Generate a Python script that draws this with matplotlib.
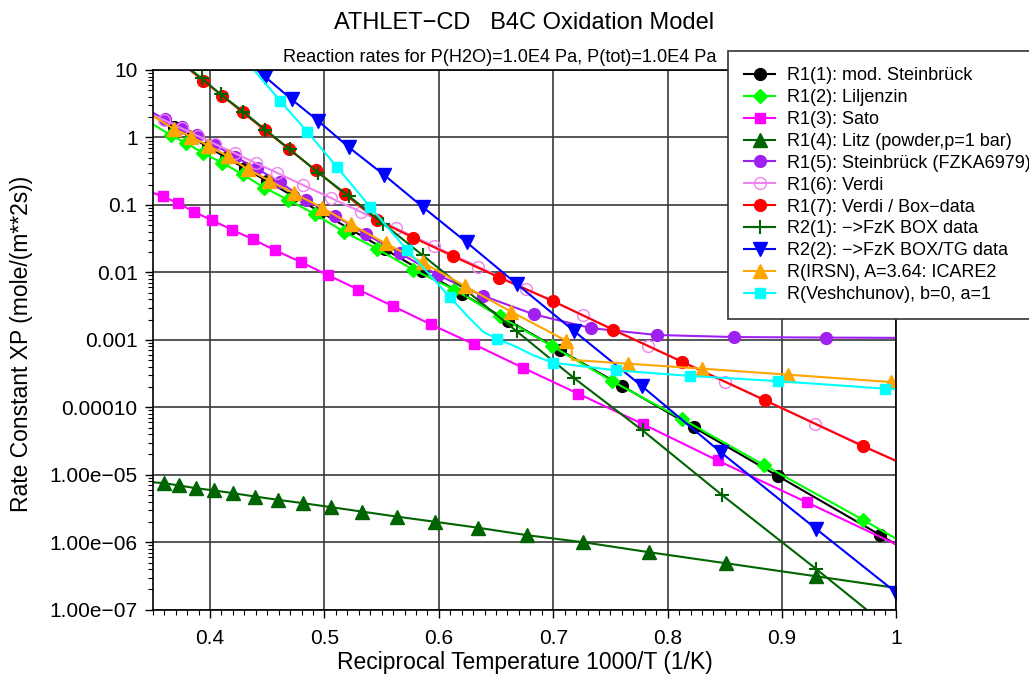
import matplotlib
matplotlib.use('Agg')
import matplotlib.pyplot as plt
from matplotlib.ticker import MultipleLocator, LogLocator, NullFormatter

plt.rcParams['font.family'] = ['Liberation Sans', 'DejaVu Sans']

# values (x = 1000/T, y = rate constant)
x_r11 = [0.35, 0.3685, 0.383, 0.3983, 0.4144, 0.4306, 0.4501, 0.4723, 0.4962, 0.5224, 0.553,
         0.5851, 0.6201, 0.6608, 0.7063, 0.7602, 0.8228, 0.8967, 0.9854, 1.0]
y_r11 = [2.14, 1.41, 1.02, 0.721, 0.50, 0.347, 0.224, 0.136, 0.079, 0.0438, 0.0219,
         0.0106, 0.00483, 0.00193, 6.98e-4, 2.07e-4, 5.05e-5, 9.5e-6, 1.29e-6, 9.2e-7]

x_r12 = [0.35, 0.3656, 0.3792, 0.3941, 0.4107, 0.4284, 0.4474, 0.4682, 0.4918, 0.5174, 0.5457,
         0.5775, 0.6135, 0.6532, 0.6991, 0.7511, 0.8123, 0.8843, 0.9708, 1.0]
y_r12 = [1.57, 1.08, 0.823, 0.585, 0.42, 0.284, 0.18, 0.119, 0.0727, 0.0397, 0.0225,
         0.011, 0.00556, 0.00222, 8.07e-4, 2.46e-4, 6.78e-5, 1.39e-5, 2.15e-6, 1.12e-6]

x_r13 = [0.35, 0.3587, 0.3723, 0.3863, 0.4015, 0.419, 0.4373, 0.4568, 0.4793, 0.5034, 0.5296,
         0.5602, 0.5929, 0.6308, 0.6733, 0.7219, 0.7781, 0.8436, 0.9216, 1.0]
y_r13 = [0.151, 0.1346, 0.105, 0.0787, 0.0593, 0.0431, 0.031, 0.0213, 0.01426, 0.00906, 0.00556,
         0.00314, 0.0017, 8.58e-4, 3.87e-4, 1.59e-4, 5.67e-5, 1.63e-5, 3.91e-6, 9.25e-7]

x_r14 = [0.35, 0.3598, 0.3732, 0.3878, 0.4038, 0.4204, 0.4393, 0.4592, 0.4816, 0.5058, 0.5326,
         0.5632, 0.5967, 0.6345, 0.6774, 0.7264, 0.784, 0.851, 0.9297, 1.0]
y_r14 = [7.76e-6, 7.5e-6, 6.94e-6, 6.32e-6, 5.85e-6, 5.33e-6, 4.76e-6, 4.26e-6, 3.79e-6, 3.31e-6, 2.85e-6,
         2.4e-6, 2.01e-6, 1.64e-6, 1.27e-6, 1.0e-6, 7.11e-7, 4.88e-7, 3.13e-7, 2.1e-7]

x_r15 = [0.35, 0.3607, 0.3753, 0.3884, 0.4044, 0.4219, 0.4408, 0.4612, 0.4839, 0.5093, 0.5364,
         0.5661, 0.5996, 0.6386, 0.6829, 0.7333, 0.7905, 0.8584, 0.9388, 1.0]
y_r15 = [2.33, 1.85, 1.44, 1.10, 0.769, 0.515, 0.347, 0.217, 0.117, 0.0691, 0.0367,
         0.0192, 0.00905, 0.0045, 0.00239, 0.00149, 0.00118, 0.0011, 0.00108, 0.00107]

x_r16 = [0.35, 0.3598, 0.3752, 0.3895, 0.404, 0.4215, 0.4399, 0.4582, 0.4812, 0.506, 0.5322,
         0.5628, 0.5962, 0.6341, 0.6764, 0.7259, 0.7831, 0.8501, 0.9292, 1.0]
y_r16 = [2.14, 1.81, 1.36, 1.05, 0.804, 0.585, 0.419, 0.301, 0.197, 0.126, 0.0781,
         0.0448, 0.0244, 0.0122, 0.00567, 0.00231, 8.15e-4, 2.41e-4, 5.73e-5, 1.6e-5]

x_r17 = [0.35, 0.3941, 0.4108, 0.4286, 0.4481, 0.4693, 0.4924, 0.518, 0.5462, 0.5777, 0.6127,
         0.6529, 0.6996, 0.752, 0.8123, 0.8847, 0.9705, 1.0]
y_r17 = [28.0, 6.92, 4.14, 2.35, 1.28, 0.664, 0.327, 0.144, 0.0593, 0.0328, 0.0173,
         0.00838, 0.00377, 0.00142, 4.75e-4, 1.28e-4, 2.66e-5, 1.6e-5]

x_r21 = [0.35, 0.3927, 0.4094, 0.4291, 0.4481, 0.4699, 0.4947, 0.5215, 0.5515, 0.5859, 0.6238,
         0.6681, 0.7182, 0.7781, 0.8473, 0.9297, 1.0]
y_r21 = [28.0, 7.5, 4.35, 2.40, 1.31, 0.664, 0.298, 0.135, 0.0526, 0.0179, 0.00542,
         0.00134, 2.71e-4, 4.54e-5, 5.05e-6, 4.03e-7, 4.4e-8]

x_r22 = [0.43, 0.4481, 0.4714, 0.4947, 0.5215, 0.5524, 0.5862, 0.6244, 0.6681, 0.7182, 0.7778,
         0.8464, 0.9297, 1.0]
y_r22 = [14.5, 7.93, 3.66, 1.75, 0.711, 0.276, 0.0924, 0.0278, 0.00673, 0.00135, 2.04e-4,
         2.16e-5, 1.58e-6, 1.78e-7]

x_irsn = [0.35, 0.3685, 0.383, 0.3985, 0.4153, 0.4328, 0.4518, 0.4736, 0.4976, 0.5232, 0.5535,
          0.5859, 0.6229, 0.6635, 0.7115, 0.7162, 0.7162, 0.7655, 0.83, 0.9051, 0.9951, 1.0]
y_irsn = [2.07, 1.34, 1.03, 0.756, 0.528, 0.341, 0.229, 0.148, 0.0915, 0.0517, 0.0268,
          0.0141, 0.00622, 0.0026, 9.66e-4, 8.3e-4, 5.05e-4, 4.43e-4, 3.74e-4, 3.05e-4, 2.37e-4, 2.3e-4]

x_vesh = [0.432, 0.4612, 0.4851, 0.5113, 0.5399, 0.5726, 0.6095, 0.6244, 0.6389, 0.6506, 0.6681,
          0.6826, 0.6994, 0.7549, 0.8196, 0.8968, 0.99, 1.0]
y_vesh = [13.5, 3.49, 1.21, 0.359, 0.0933, 0.0211, 0.00434, 0.00231, 0.00131, 0.00104, 7.82e-4,
          5.89e-4, 4.59e-4, 3.53e-4, 2.92e-4, 2.44e-4, 1.89e-4, 1.86e-4]

labels = ['R1(1): mod. Steinbrück', 'R1(2): Liljenzin', 'R1(3): Sato',
          'R1(4): Litz (powder,p=1 bar)', 'R1(5): Steinbrück (FZKA6979)', 'R1(6): Verdi',
          'R1(7): Verdi / Box\u2212data', 'R2(1): \u2212>FzK BOX data', 'R2(2): \u2212>FzK BOX/TG data',
          'R(IRSN), A=3.64: ICARE2', 'R(Veshchunov), b=0, a=1']

ytick_vals = [1e-7, 1e-6, 1e-5, 1e-4, 1e-3, 1e-2, 1e-1, 1, 10]
ytick_labels = ['1.00e\u221207', '1.00e\u221206', '1.00e\u221205', '0.00010', '0.001',
                '0.01', '0.1', '1', '10']
xtick_vals = [0.4, 0.5, 0.6, 0.7, 0.8, 0.9, 1.0]
xtick_labels = ['0.4', '0.5', '0.6', '0.7', '0.8', '0.9', '1']

fig = plt.figure(figsize=(10.29, 6.84), dpi=100)
ax = fig.add_axes([0.1485, 0.1086, 0.7227, 0.7891])

# (x, y, color, marker, size, markevery, filled)
series = [
    (x_r11, y_r11, 'black', 'o', 8.5, slice(1, -1), True),
    (x_r12, y_r12, '#00ff00', 'D', 7.5, slice(1, -1), True),
    (x_r13, y_r13, '#ff00ff', 's', 7, slice(1, -1), True),
    (x_r14, y_r14, '#006400', '^', 9.5, slice(1, -1), True),
    (x_r15, y_r15, '#a020f0', 'o', 8.5, slice(1, -1), True),
    (x_r16, y_r16, '#ee82ee', 'o', 8.5, slice(1, -1), False),
    (x_r17, y_r17, '#ff0000', 'o', 8.5, slice(1, -1), True),
    (x_r21, y_r21, '#006400', '+', 10, slice(1, -1), True),
    (x_r22, y_r22, '#0000ff', 'v', 9.5, slice(1, None), True),
    (x_irsn, y_irsn, '#ffa500', '^', 9.5, list(range(1, 15)) + list(range(17, 21)), True),
    (x_vesh, y_vesh, '#00ffff', 's', 7, [1, 2, 3, 4, 5, 6, 9, 12, 13, 14, 15, 16], True),
]

for (xs, ys, col, mk, ms, every, filled), lab in zip(series, labels):
    ax.plot(xs, ys, color=col, lw=1.5, marker=mk, markersize=ms, markevery=every,
            markerfacecolor=col if filled else 'none', markeredgewidth=1.5 if mk == '+' else 1.0,
            label=lab, clip_on=True)

ax.set_yscale('log')
ax.set_xlim(0.35, 1.0)
ax.set_ylim(1e-7, 10)
ax.set_yticks(ytick_vals)
ax.set_yticklabels(ytick_labels)
ax.yaxis.set_minor_locator(LogLocator(base=10, subs=range(2, 10)))
ax.yaxis.set_minor_formatter(NullFormatter())
ax.set_xticks(xtick_vals)
ax.set_xticklabels(xtick_labels)
ax.xaxis.set_minor_locator(MultipleLocator(0.01))

ax.grid(True, which='major', color='#3a3a3a', lw=1.2)
ax.set_axisbelow(True)
for sp in ax.spines.values():
    sp.set_linewidth(1.2)
ax.tick_params(which='major', direction='out', length=6, width=1, labelsize=15, pad=5)
ax.tick_params(which='minor', direction='out', length=3.5, width=0.8)
ax.tick_params(axis='x', which='major', pad=8)

fig.text(524 / 1029, 1 - 23 / 684, 'ATHLET\u2212CD   B4C Oxidation Model', ha='center', va='center', fontsize=17)
fig.text(500 / 1029, 1 - 57 / 684, 'Reaction rates for P(H2O)=1.0E4 Pa, P(tot)=1.0E4 Pa',
         ha='center', va='center', fontsize=13.1)
fig.text(524.6 / 1029, 1 - 662 / 684, 'Reciprocal Temperature 1000/T (1/K)', ha='center', va='center', fontsize=16.5)
fig.text(22 / 1029, 1 - 344 / 684, 'Rate Constant XP (mole/(m**2s))', ha='center', va='center',
         rotation=90, fontsize=16.5)

leg = ax.legend(loc='upper left', bbox_to_anchor=(728 / 1029, 1 - 51 / 684), bbox_transform=fig.transFigure,
                fontsize=13, frameon=True, fancybox=False, edgecolor='#333333', framealpha=1,
                borderpad=0.9, labelspacing=0.27, handlelength=1.7, handletextpad=0.65, borderaxespad=0)
leg.get_frame().set_linewidth(1.2)

fig.savefig('out.png', dpi=100)
